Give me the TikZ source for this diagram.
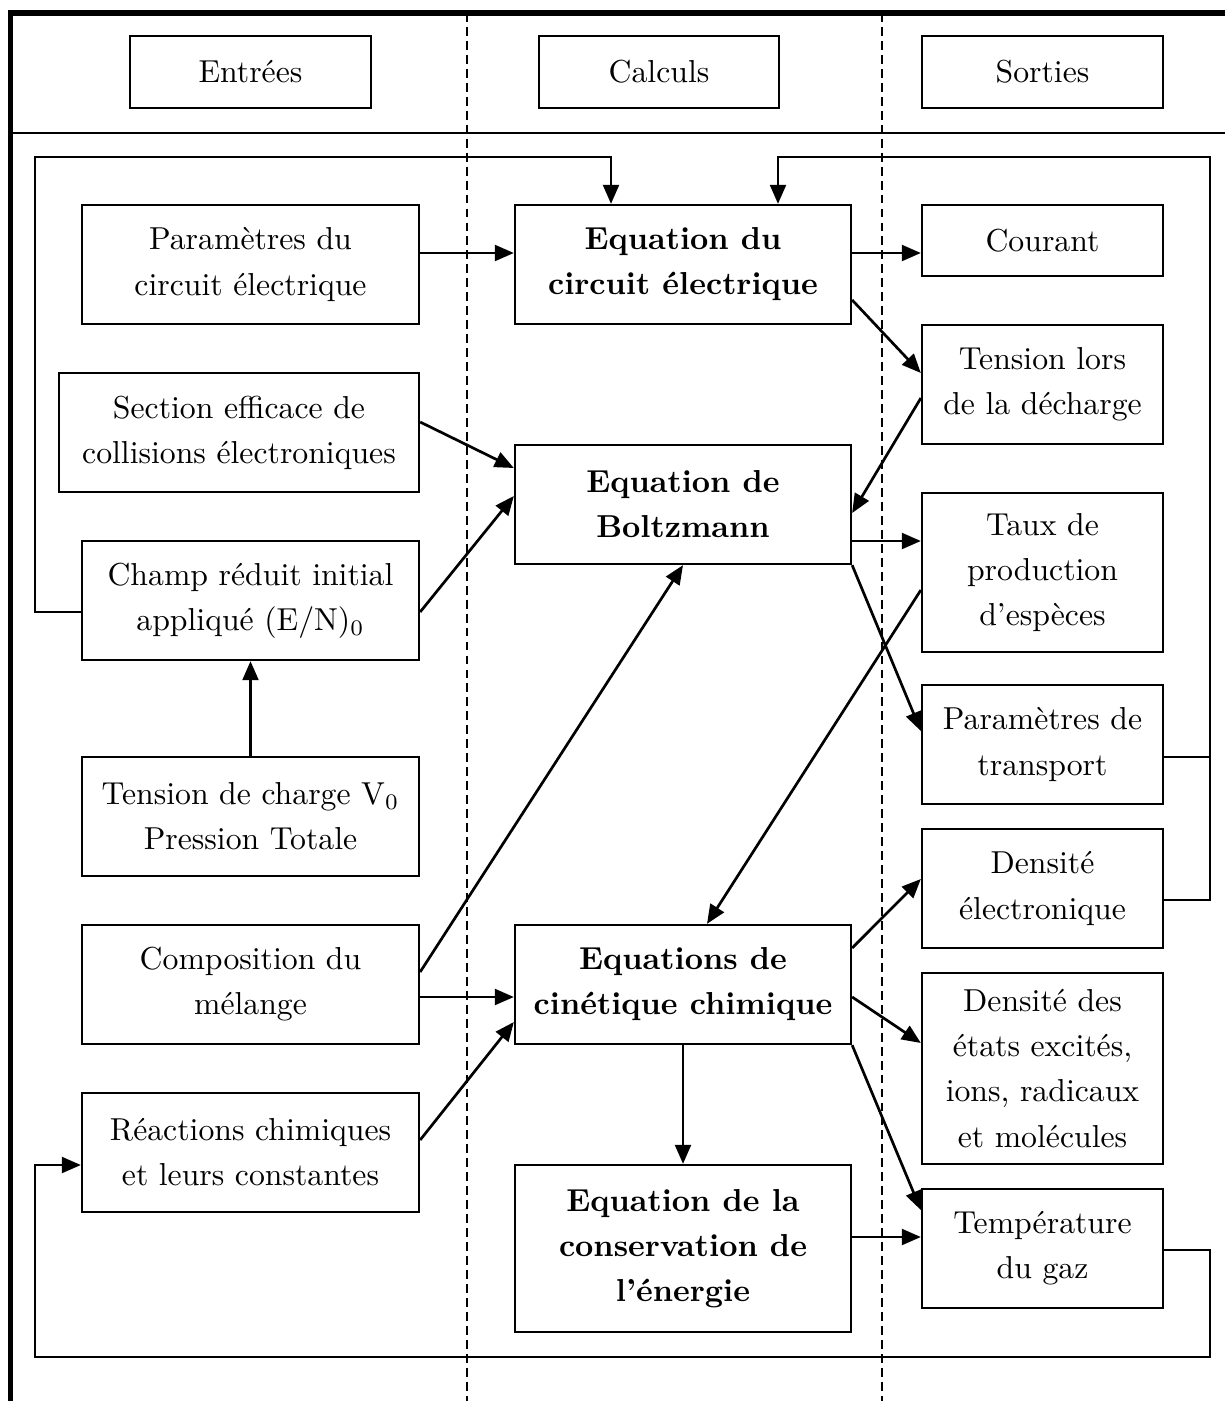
\documentclass[tikz,border=0pt]{standalone}
\usepackage{fontspec}
\usetikzlibrary{arrows.meta,calc}
\begin{document}
\begin{tikzpicture}[x=0.315pt,y=-0.315pt,
  bx/.style n args={2}{draw,line width=0.72pt,minimum width=#1*0.315pt,minimum height=#2*0.315pt,inner sep=0pt,align=center,font=\fontsize{10pt}{14.2pt}\selectfont},
  bb/.style={font=\fontsize{10pt}{14.2pt}\selectfont\bfseries},
  arr/.style={line width=0.85pt,-{Triangle[length=6pt,width=5pt]}},
  ln/.style={line width=0.85pt},
  sep/.style={line width=0.6pt,dash pattern=on 2.8pt off 1.6pt}]
\useasboundingbox (0,0) rectangle (1225,1401);
% frame
\draw[line width=1.6pt] (10.8,1401) -- (10.8,13) -- (1225,13);
\draw[line width=0.8pt] (10.8,132.8) -- (1225,132.8);
\draw[sep] (467,13) -- (467,1401);
\draw[sep] (882,13) -- (882,1401);
% headers
\node[bx={241}{72}] (hE) at (250.5,72) {Entrées};
\node[bx={240}{72}] (hC) at (659,72) {Calculs};
\node[bx={241}{72}] (hS) at (1042.5,72) {Sorties};
% left column
\node[bx={337}{119}] (pc) at (250.5,264.5) {Paramètres du\\circuit électrique};
\node[bx={360}{119}] (sec) at (239,432.5) {Section efficace de\\collisions électroniques};
\node[bx={337}{119}] (champ) at (250.5,600.5) {Champ réduit initial\\appliqué (E/N)$_0$};
\node[bx={337}{119}] (tens) at (250.5,816.5) {Tension de charge V$_0$\\Pression Totale};
\node[bx={337}{119}] (comp) at (250.5,984.5) {Composition du\\mélange};
\node[bx={337}{119}] (reac) at (250.5,1152.5) {Réactions chimiques\\et leurs constantes};
% middle column
\node[bx={336}{119},bb] (eqc) at (683,264.5) {Equation du\\circuit électrique};
\node[bx={336}{119},bb] (boltz) at (683,504.5) {Equation de\\Boltzmann};
\node[bx={336}{119},bb] (cin) at (683,984.5) {Equations de\\cinétique chimique};
\node[bx={336}{167},bb] (cons) at (683,1248.5) {Equation de la\\conservation de\\l'énergie};
% right column
\node[bx={241}{71}] (cour) at (1042.5,240.5) {Courant};
\node[bx={241}{119}] (tlors) at (1042.5,384.5) {Tension lors\\de la décharge};
\node[bx={241}{159}] (taux) at (1042.5,572.5) {Taux de\\production\\d'espèces};
\node[bx={241}{119}] (ptr) at (1042.5,744.5) {Paramètres de\\transport};
\node[bx={241}{119}] (dele) at (1042.5,888.5) {Densité\\électronique};
\node[bx={241}{191}] (dex) at (1042.5,1068.5) {Densité des\\états excités,\\ions, radicaux\\et molécules};
\node[bx={241}{119}] (temp) at (1042.5,1248.5) {Température\\du gaz};
% loop corners
\coordinate (lt) at (35,157);
\coordinate (rt) at (1210,157);
\coordinate (rb) at (1210,1357);
\coordinate (lb) at (35,1357);
% arrows
\draw[arr] ([shift={(0,-11.5)}]pc.east) -- ([shift={(0,-11.5)}]eqc.west);
\draw[arr] ([shift={(0,-11.5)}]eqc.east) -- ([shift={(0,12.5)}]cour.west);
\draw[arr] ([shift={(0,35.5)}]eqc.east) -- ([shift={(0,-11.5)}]tlors.west);
\draw[arr] ([shift={(0,13.5)}]tlors.west) -- ([shift={(0,8.5)}]boltz.east);
\draw[arr] ([shift={(0,-10.5)}]sec.east) -- ([shift={(0,-36.5)}]boltz.west);
\draw[arr] ([shift={(0,11.5)}]champ.east) -- ([shift={(0,-8.5)}]boltz.west);
\draw[arr] ([shift={(0,36.5)}]boltz.east) -- ([shift={(0,-31.5)}]taux.west);
\draw[arr] (boltz.south east) -- ([shift={(0,-13.5)}]ptr.west);
\draw[arr] ([shift={(0,-12.5)}]comp.east) -- (boltz.south);
\draw[arr] ([shift={(0,17.5)}]taux.west) -- ([shift={(24,0)}]cin.north);
\draw[arr] ([shift={(0,12.5)}]comp.east) -- ([shift={(0,12.5)}]cin.west);
\draw[arr] ([shift={(0,-12.5)}]reac.east) -- ([shift={(0,37.5)}]cin.west);
\draw[arr] ([shift={(0,-36.5)}]cin.east) -- ([shift={(0,-9.5)}]dele.west);
\draw[arr] ([shift={(0,12.5)}]cin.east) -- ([shift={(0,-25.5)}]dex.west);
\draw[arr] (cin.south east) -- ([shift={(0,-38.5)}]temp.west);
\draw[arr] (cin.south) -- (cons.north);
\draw[arr] ([shift={(0,-11.5)}]cons.east) -- ([shift={(0,-11.5)}]temp.west);
\draw[arr] (tens.north) -- (champ.south);
% loops
\draw[arr] ([shift={(0,11.5)}]champ.west) -| (lt) -| ([shift={(-72,0)}]eqc.north);
\draw[arr] ([shift={(0,12.5)}]ptr.east) -| (rt) -| ([shift={(95,0)}]eqc.north);
\draw[ln] ([shift={(0,11.5)}]dele.east) -| (rt);
\draw[arr] ([shift={(0,1.5)}]temp.east) -| (rb) -| (lb) |- ([shift={(0,12.5)}]reac.west);
\end{tikzpicture}
\end{document}
